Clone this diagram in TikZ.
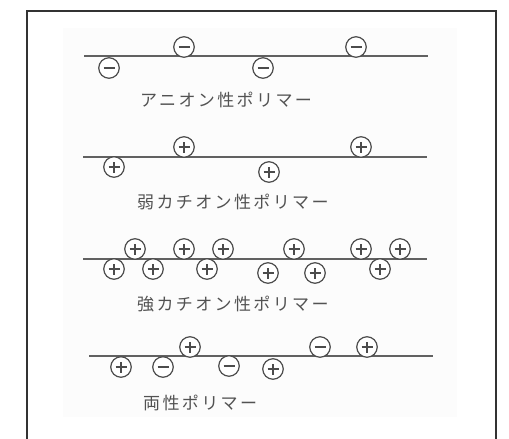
\documentclass[tikz,border=0pt]{standalone}
\usepackage{fontspec}
\newfontfamily\jpfont[LetterSpace=14]{Noto Sans CJK JP}
\begin{document}
\begin{tikzpicture}[x=1pt,y=-1pt,
  chain/.style={draw=black!62, line width=1.2pt},
  ion/.style={circle, draw=black!70, line width=1.2pt, minimum size=20.5pt, inner sep=0pt, fill=white},
  anion/.style={ion, path picture={\draw[black!70,line width=1.1pt]
     ([xshift=-5.5pt]path picture bounding box.center) -- ([xshift=5.5pt]path picture bounding box.center);}},
  cation/.style={ion, path picture={\draw[black!70,line width=1.1pt]
     ([xshift=-5.5pt]path picture bounding box.center) -- ([xshift=5.5pt]path picture bounding box.center)
     ([yshift=-5.5pt]path picture bounding box.center) -- ([yshift=5.5pt]path picture bounding box.center);}},
  lbl/.style={anchor=west, inner sep=0pt, text=black!68, font=\jpfont\fontsize{17}{17}\selectfont}]
\useasboundingbox (0,0) rectangle (509,439);
\fill[black!1] (63,28) rectangle (457,417);
% frame
\draw[black!80, line width=1.3pt] (27,439) -- (27,11) -- (496,11) -- (496,439);
% anionic
\coordinate (a1) at (84,56); \coordinate (a2) at (428,56);
\draw[chain] (a1) -- (a2);
\node[anion] (an1) at (184,47) {};
\node[anion] (an2) at (356,47) {};
\node[anion] (an3) at (109,68) {};
\node[anion] (an4) at (263,68) {};
\node[lbl] (t1) at (140,100) {アニオン性ポリマー};
% weak cationic
\coordinate (b1) at (83,157); \coordinate (b2) at (427,157);
\draw[chain] (b1) -- (b2);
\node[cation] (bc1) at (184,147) {};
\node[cation] (bc2) at (361,147) {};
\node[cation] (bc3) at (114,167) {};
\node[cation] (bc4) at (269,172) {};
\node[lbl] (t2) at (137,202) {弱カチオン性ポリマー};
% strong cationic
\coordinate (c1) at (83,259); \coordinate (c2) at (427,259);
\draw[chain] (c1) -- (c2);
\node[cation] (cc1) at (135,249) {};
\node[cation] (cc2) at (184,249) {};
\node[cation] (cc3) at (223,249) {};
\node[cation] (cc4) at (294,249) {};
\node[cation] (cc5) at (361,249) {};
\node[cation] (cc6) at (400,249) {};
\node[cation] (cc7) at (114,269) {};
\node[cation] (cc8) at (153,269) {};
\node[cation] (cc9) at (207,269) {};
\node[cation] (cc10) at (268,273) {};
\node[cation] (cc11) at (315,273) {};
\node[cation] (cc12) at (380,269) {};
\node[lbl] (t3) at (137,304) {強カチオン性ポリマー};
% amphoteric
\coordinate (d1) at (89,356); \coordinate (d2) at (433,356);
\draw[chain] (d1) -- (d2);
\node[cation] (dc1) at (190,347) {};
\node[anion] (da1) at (320,347) {};
\node[cation] (dc2) at (367,347) {};
\node[cation] (dc3) at (121,367) {};
\node[anion] (da2) at (163,367) {};
\node[anion] (da3) at (229,366) {};
\node[cation] (dc4) at (273,369) {};
\node[lbl] (t4) at (143,403) {両性ポリマー};
\end{tikzpicture}
\end{document}
